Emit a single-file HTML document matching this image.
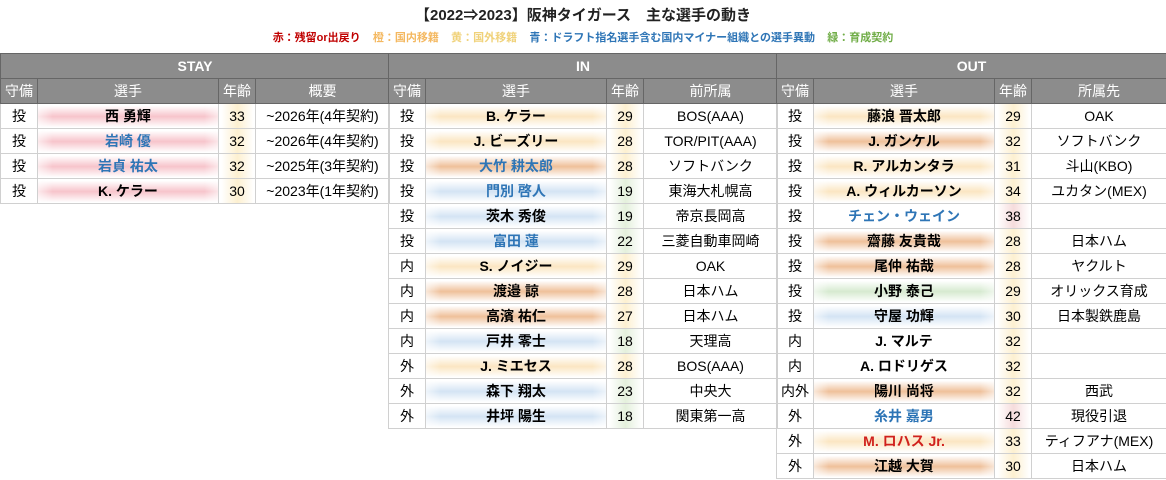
<!DOCTYPE html>
<html><head><meta charset="utf-8"><style>
body{margin:0;width:1166px;height:480px;background:#fff;font-family:"Liberation Sans","Noto Sans CJK JP",sans-serif;position:relative;overflow:hidden}
.title{position:absolute;top:4px;left:0;width:1166px;text-align:center;font-weight:bold;font-size:15px;color:#222}
.legend{position:absolute;top:29px;left:0;width:1166px;text-align:center;font-size:11px;font-weight:bold;white-space:pre}
table{position:absolute;top:53px;border-collapse:collapse;table-layout:fixed;border:1px solid #555;font-size:14px}
td,th{height:24px;padding:0;text-align:center;border:1px solid #d0d0d0;white-space:nowrap;overflow:hidden}
th{background:#8c8c8c;color:#fff;font-weight:bold;border-color:#666}
th.h2{font-weight:normal;font-size:14px}
td.n{font-weight:bold}
.p{background:linear-gradient(90deg,rgba(255,255,255,.6),rgba(255,255,255,0) 8%,rgba(255,255,255,0) 92%,rgba(255,255,255,.6)),linear-gradient(#fff 5%,#f7c4cb 50%,#fff 95%)}
.o{background:linear-gradient(90deg,rgba(255,255,255,.6),rgba(255,255,255,0) 8%,rgba(255,255,255,0) 92%,rgba(255,255,255,.6)),linear-gradient(#fff 5%,#efc09a 50%,#fff 95%)}
.y{background:linear-gradient(90deg,rgba(255,255,255,.6),rgba(255,255,255,0) 8%,rgba(255,255,255,0) 92%,rgba(255,255,255,.6)),linear-gradient(#fff 5%,#fbe6c2 50%,#fff 95%)}
.b{background:linear-gradient(90deg,rgba(255,255,255,.6),rgba(255,255,255,0) 8%,rgba(255,255,255,0) 92%,rgba(255,255,255,.6)),linear-gradient(#fff 5%,#d4e4f4 50%,#fff 95%)}
.g{background:linear-gradient(90deg,rgba(255,255,255,.6),rgba(255,255,255,0) 8%,rgba(255,255,255,0) 92%,rgba(255,255,255,.6)),linear-gradient(#fff 5%,#d6ead0 50%,#fff 95%)}
.a{background:linear-gradient(90deg,#fff 5%,#fdf0d0 50%,#fff 95%)}
.ag{background:linear-gradient(90deg,#fff 5%,#e4f0dc 50%,#fff 95%)}
.ar{background:linear-gradient(90deg,#fff 5%,#f6dcdc 50%,#fff 95%)}
.bl{color:#2e75b6}.rd{color:#d0201c}
</style></head><body>
<div class="title">【2022⇒2023】阪神タイガース　主な選手の動き</div>
<div class="legend"><span style="color:#c00000">赤：残留or出戻り</span>    <span style="color:#f4b860">橙：国内移籍</span>    <span style="color:#f0d27a">黄：国外移籍</span>    <span style="color:#2e75b6">青：ドラフト指名選手含む国内マイナー組織との選手異動</span>    <span style="color:#70ad47">緑：育成契約</span></div>

<table style="left:0;width:389px">
<colgroup><col style="width:37px"><col style="width:181px"><col style="width:37px"><col style="width:134px"></colgroup>
<tr><th colspan="4">STAY</th></tr>
<tr><th class="h2">守備</th><th class="h2">選手</th><th class="h2">年齢</th><th class="h2">概要</th></tr>
<tr><td>投</td><td class="n p">西 勇輝</td><td class="a">33</td><td>~2026年(4年契約)</td></tr>
<tr><td>投</td><td class="n p bl">岩崎 優</td><td class="a">32</td><td>~2026年(4年契約)</td></tr>
<tr><td>投</td><td class="n p bl">岩貞 祐太</td><td class="a">32</td><td>~2025年(3年契約)</td></tr>
<tr><td>投</td><td class="n p">K. ケラー</td><td class="a">30</td><td>~2023年(1年契約)</td></tr>
</table>

<table style="left:388px;width:389px">
<colgroup><col style="width:37px"><col style="width:181px"><col style="width:37px"><col style="width:134px"></colgroup>
<tr><th colspan="4">IN</th></tr>
<tr><th class="h2">守備</th><th class="h2">選手</th><th class="h2">年齢</th><th class="h2">前所属</th></tr>
<tr><td>投</td><td class="n y">B. ケラー</td><td class="a">29</td><td>BOS(AAA)</td></tr>
<tr><td>投</td><td class="n y">J. ビーズリー</td><td class="a">28</td><td>TOR/PIT(AAA)</td></tr>
<tr><td>投</td><td class="n o bl">大竹 耕太郎</td><td class="a">28</td><td>ソフトバンク</td></tr>
<tr><td>投</td><td class="n b bl">門別 啓人</td><td class="ag">19</td><td>東海大札幌高</td></tr>
<tr><td>投</td><td class="n b">茨木 秀俊</td><td class="ag">19</td><td>帝京長岡高</td></tr>
<tr><td>投</td><td class="n b bl">富田 蓮</td><td class="ag">22</td><td>三菱自動車岡崎</td></tr>
<tr><td>内</td><td class="n y">S. ノイジー</td><td class="a">29</td><td>OAK</td></tr>
<tr><td>内</td><td class="n o">渡邉 諒</td><td class="a">28</td><td>日本ハム</td></tr>
<tr><td>内</td><td class="n o">高濱 祐仁</td><td class="a">27</td><td>日本ハム</td></tr>
<tr><td>内</td><td class="n b">戸井 零士</td><td class="ag">18</td><td>天理高</td></tr>
<tr><td>外</td><td class="n y">J. ミエセス</td><td class="a">28</td><td>BOS(AAA)</td></tr>
<tr><td>外</td><td class="n b">森下 翔太</td><td class="ag">23</td><td>中央大</td></tr>
<tr><td>外</td><td class="n b">井坪 陽生</td><td class="ag">18</td><td>関東第一高</td></tr>
</table>

<table style="left:776px;width:390px">
<colgroup><col style="width:37px"><col style="width:181px"><col style="width:37px"><col style="width:135px"></colgroup>
<tr><th colspan="4">OUT</th></tr>
<tr><th class="h2">守備</th><th class="h2">選手</th><th class="h2">年齢</th><th class="h2">所属先</th></tr>
<tr><td>投</td><td class="n y">藤浪 晋太郎</td><td class="a">29</td><td>OAK</td></tr>
<tr><td>投</td><td class="n o">J. ガンケル</td><td class="a">32</td><td>ソフトバンク</td></tr>
<tr><td>投</td><td class="n y">R. アルカンタラ</td><td class="a">31</td><td>斗山(KBO)</td></tr>
<tr><td>投</td><td class="n y">A. ウィルカーソン</td><td class="a">34</td><td>ユカタン(MEX)</td></tr>
<tr><td>投</td><td class="n bl">チェン・ウェイン</td><td class="ar">38</td><td></td></tr>
<tr><td>投</td><td class="n o">齋藤 友貴哉</td><td class="a">28</td><td>日本ハム</td></tr>
<tr><td>投</td><td class="n o">尾仲 祐哉</td><td class="a">28</td><td>ヤクルト</td></tr>
<tr><td>投</td><td class="n g">小野 泰己</td><td class="a">29</td><td>オリックス育成</td></tr>
<tr><td>投</td><td class="n b">守屋 功輝</td><td class="a">30</td><td>日本製鉄鹿島</td></tr>
<tr><td>内</td><td class="n">J. マルテ</td><td class="a">32</td><td></td></tr>
<tr><td>内</td><td class="n">A. ロドリゲス</td><td class="a">32</td><td></td></tr>
<tr><td>内外</td><td class="n o">陽川 尚将</td><td class="a">32</td><td>西武</td></tr>
<tr><td>外</td><td class="n bl">糸井 嘉男</td><td class="ar">42</td><td>現役引退</td></tr>
<tr><td>外</td><td class="n y rd">M. ロハス Jr.</td><td class="a">33</td><td>ティフアナ(MEX)</td></tr>
<tr><td>外</td><td class="n o">江越 大賀</td><td class="a">30</td><td>日本ハム</td></tr>
</table>
</body></html>
